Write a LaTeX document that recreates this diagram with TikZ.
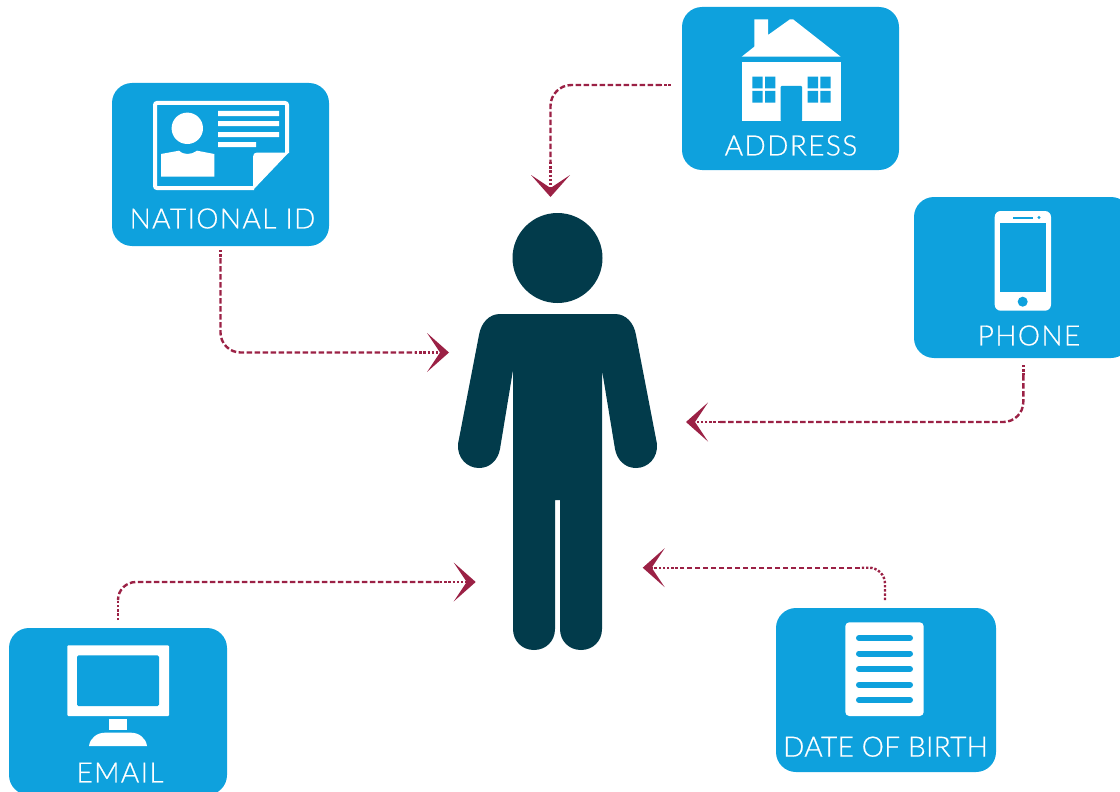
\documentclass[tikz,border=0pt]{standalone}
\usepackage{fontspec}
\setmainfont{Lato Light}[LetterSpace=5,FakeBold=0.7]
\usetikzlibrary{arrows.meta}
\definecolor{cardblue}{HTML}{0EA1DD}
\definecolor{persondark}{HTML}{023B4B}
\definecolor{linkred}{HTML}{9B2145}
\tikzset{
  cardbox/.style={fill=cardblue,rounded corners=20pt,inner sep=0pt,draw=none},
  cardtext/.style={text=white,inner sep=0pt,font=\fontsize{28}{28}\selectfont},
  dashlink/.style={draw=linkred,line width=2.4pt,dash pattern=on 5.5pt off 2.5pt},
  dotlink/.style={draw=linkred,line width=2.4pt,dash pattern=on 2.4pt off 1.8pt},
  chevron/.style={-{Stealth[length=22pt,width=39pt,inset=13pt,line width=0pt,fill=linkred]}},
  icon/.style={fill=white,draw=none},
  hole/.style={fill=cardblue,draw=none},
}
\begin{document}
\begin{tikzpicture}[x=1pt,y=-1pt]
\useasboundingbox (0,0) rectangle (1120,792);
\clip (0,0) rectangle (1120,792);
% cards
\node[cardbox,minimum width=217pt,minimum height=163pt] (natid) at (220.5,164.5) {};
\node[cardbox,minimum width=217pt,minimum height=163pt] (addr) at (790.5,88.5) {};
\node[cardbox,minimum width=217pt,minimum height=161pt] (phone) at (1022.5,277.5) {};
\node[cardbox,minimum width=218pt,minimum height=167pt] (email) at (118,711.5) {};
\node[cardbox,minimum width=220pt,minimum height=164pt] (dob) at (886,690) {};
% labels
\node[cardtext] (natidt) at (222.5,218.5) {NATIONAL ID};
\node[cardtext] (addrt) at (791,145.5) {ADDRESS};
\node[cardtext] (phonet) at (1029,335.5) {PHONE};
\node[cardtext] (emailt) at (120,772.5) {EMAIL};
\node[cardtext] (dobt) at (885.5,746.7) {\addfontfeatures{LetterSpace=1.2}DATE OF BIRTH};
% person
\node[circle,fill=persondark,minimum size=90pt,inner sep=0pt] (head) at (557.5,258) {};
\fill[persondark] (513,370) -- (500,449) .. controls (498,460) and (490,468) .. (479,468)
  .. controls (467,468) and (457,458) .. (458,444)
  -- (479,335) .. controls (481,323) and (489,314) .. (500,314)
  -- (615,314) .. controls (626,314) and (634,323) .. (636,335)
  -- (657,444) .. controls (658,458) and (648,468) .. (636,468)
  .. controls (625,468) and (617,460) .. (615,449) -- (602,370)
  -- (602,629) .. controls (602,641) and (593,650) .. (581,650)
  .. controls (569,650) and (560,641) .. (560,629) -- (560,500) -- (555,500) -- (555,629)
  .. controls (555,641) and (546,650) .. (534,650)
  .. controls (522,650) and (513,641) .. (513,629) -- cycle;
% national id icon
\draw[white,line width=4pt,rounded corners=2pt] (287,153) -- (287,103) -- (155,103) -- (155,188) -- (254,188);
\fill[white] (288.7,152.5) -- (257,152.5) .. controls (254.5,152.5) and (253,154) .. (253,157) -- (253,190) -- cycle;
\fill[icon] (187.3,128.3) circle[radius=15.7];
\fill[icon] (161,154) -- (179,150.7) .. controls (182,153) and (184,154) .. (187.5,154) .. controls (191,154) and (193,153) .. (197,150.7) -- (214.3,154) -- (214.3,176.7) -- (161,176.7) -- cycle;
\fill[icon] (218,111) rectangle (279,116) (218,121) rectangle (279,126) (218,132) rectangle (279,137) (218,142) rectangle (256,147);
% house icon
\fill[icon] (741.7,56.7) -- (754.3,46.7) -- (754.3,19.3) -- (768,19.3) -- (768,35) -- (790,19.3) -- (793,19.3) -- (840.7,56.7) -- cycle;
\fill[icon] (741.7,61.7) rectangle (841,121.3);
\fill[hole,rounded corners=1pt] (780.7,121.4) -- (780.7,86) -- (802,86) -- (802,121.4) -- cycle;
\fill[hole] (752.3,76.7) rectangle (762.7,88.5) (765,76.7) rectangle (775.3,88.5) (752.3,91) rectangle (762.7,102.7) (765,91) rectangle (775.3,102.7);
\fill[hole] (807.7,76.7) rectangle (818,88.5) (820.3,76.7) rectangle (830.7,88.5) (807.7,91) rectangle (818,102.7) (820.3,91) rectangle (830.7,102.7);
% phone icon
\fill[icon,rounded corners=6pt] (994.7,211) rectangle (1051,310.7);
\fill[hole] (1000,223.3) rectangle (1045.7,291.7);
\fill[hole] (1022.7,301.7) circle[radius=5];
\fill[hole] (1012.7,216.5) rectangle (1032.7,218.5);
\fill[hole] (1039,217.5) circle[radius=1.7];
% monitor icon
\fill[icon,rounded corners=1pt] (67.3,645.3) rectangle (169,716);
\fill[hole,rounded corners=1.5pt] (77,655.3) rectangle (159,706);
\fill[icon] (109,719) rectangle (127,730);
\fill[icon] (89,746) .. controls (90,738) and (97,732.7) .. (105,732.7) -- (131,732.7) .. controls (139,732.7) and (146,738) .. (147,746) -- cycle;
% document icon
\fill[icon,rounded corners=4pt] (845.3,622.3) rectangle (923.7,716);
\foreach \ly in {638,653.5,669,684.7,700}
  \draw[cardblue,line width=6pt,line cap=round] (859,\ly) -- (910,\ly);
% connector anchors
\coordinate (n1) at (220.5,250); \coordinate (n2) at (220.5,258); \coordinate (n3) at (415,352.5); \coordinate (n4) at (449,352.5);
\coordinate (a1) at (670.7,85); \coordinate (a2) at (661,85); \coordinate (a3) at (550.5,162); \coordinate (a4) at (550.5,197);
\coordinate (p1) at (1023.3,365); \coordinate (p2) at (1023.3,375); \coordinate (p3) at (720,422); \coordinate (p4) at (686,422);
\coordinate (e1) at (118,620); \coordinate (e2) at (118,598); \coordinate (e3) at (440,582); \coordinate (e4) at (475.7,582);
\coordinate (d1) at (885,600); \coordinate (d2) at (885,582); \coordinate (d3) at (682,567.7); \coordinate (d4) at (642.7,567.7);
\coordinate (d5) at (860,567.7);
% connectors
\draw[dotlink] (n1) -- (n2);
\draw[dashlink,rounded corners=20pt] (n2) |- (n3);
\draw[dotlink,chevron] (n3) -- (n4);
\draw[dotlink] (a1) -- (a2);
\draw[dashlink,rounded corners=21pt] (a2) -| (a3);
\draw[dotlink,chevron] (a3) -- (a4);
\draw[dotlink] (p1) -- (p2);
\draw[dashlink,rounded corners=20pt] (p2) |- (p3);
\draw[dotlink,chevron] (p3) -- (p4);
\draw[dotlink] (e1) -- (e2);
\draw[dashlink,rounded corners=18pt] (e2) |- (e3);
\draw[dotlink,chevron] (e3) -- (e4);
\draw[dotlink,rounded corners=16pt] (d1) |- (d5);
\draw[dashlink] (d5) -- (d3);
\draw[dotlink,chevron] (d3) -- (d4);
\end{tikzpicture}
\end{document}
